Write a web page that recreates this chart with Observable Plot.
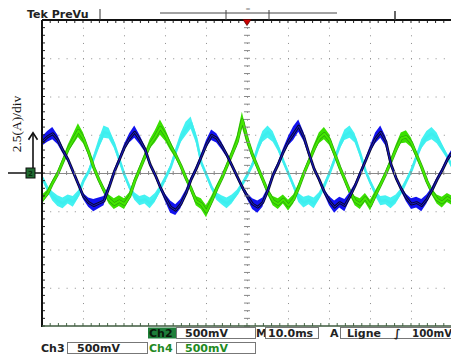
<!DOCTYPE html>
<html><head><meta charset="utf-8">
<script src="https://cdn.jsdelivr.net/npm/d3@7"></script>
<script src="https://cdn.jsdelivr.net/npm/@observablehq/plot@0.6"></script>
<style>
html,body{margin:0;padding:0;background:#fff;}
#chart svg{display:block;}
</style></head><body><div id="chart"></div>
<script>
// sample spacing of the read-off traces (ms)
const sampleStepMs = 1.25;
// phase currents (A), every 1.25 ms
const blueA = [2.1,2.4,2.6,2.2,1.5,0.9,0.1,-0.7,-1.5,-1.9,
  -2.1,-1.95,-1.8,-0.9,0.1,0.9,1.7,2.3,2.7,2.2,
  1.6,0.6,-0.1,-0.9,-1.6,-2.2,-2.4,-2.0,-1.3,-0.4,
  0.3,1.1,1.9,2.5,2.3,1.8,1.2,0.5,-0.2,-0.9,
  -1.5,-2.0,-2.2,-1.9,-1.1,-0.1,0.6,1.4,2.1,2.6,
  3.1,2.4,1.3,0.3,-0.4,-1.2,-1.8,-2.2,-1.9,-2.1,
  -1.5,-0.8,0.0,0.8,1.6,2.3,2.7,2.1,0.6,-0.3,
  -1.0,-1.6,-2.0,-1.9,-2.1,-1.7,-1.1,-0.4,0.2,0.9,
  1.4];
const greenA = [-1.7,-1.3,-0.6,0.0,0.8,1.6,2.2,2.8,2.3,1.4,
  0.4,-0.4,-1.1,-1.7,-2.0,-1.8,-2.0,-1.5,-0.5,0.3,
  1.1,1.9,2.4,3.0,2.5,1.8,1.2,0.5,-0.3,-1.0,
  -1.8,-2.0,-2.5,-1.8,-1.0,-0.3,0.5,1.3,2.1,3.5,
  2.2,1.2,0.4,-0.4,-1.2,-1.8,-2.0,-1.7,-2.1,-1.7,
  -0.9,0.0,0.8,1.6,2.3,2.6,2.2,1.3,0.4,-0.4,
  -1.2,-1.8,-2.0,-1.6,-2.1,-1.4,-0.7,0.0,0.8,1.6,
  2.3,2.4,2.0,1.2,0.4,-0.5,-1.2,-1.7,-1.9,-1.6,
  -1.8];
const cyanA = [-0.3,-1.0,-1.5,-1.8,-1.95,-1.7,-1.85,-1.4,-0.5,0.1,
  1.0,1.9,2.7,2.6,1.9,0.9,-0.1,-0.9,-1.5,-1.8,
  -1.7,-1.95,-1.6,-1.0,-0.3,0.4,1.4,2.3,2.9,3.3,
  2.3,0.7,-0.1,-0.9,-1.5,-1.75,-1.95,-1.7,-1.3,-0.7,
  -0.1,0.6,1.6,2.4,2.7,2.4,1.7,0.8,0.0,-0.8,
  -1.6,-1.9,-1.75,-1.95,-1.5,-0.8,0.0,0.9,1.8,2.5,
  2.7,2.3,1.3,0.2,-0.6,-1.3,-1.8,-1.75,-1.95,-1.7,
  -1.2,-0.5,0.2,1.1,1.9,2.4,2.6,2.3,1.7,1.1,
  0.4];
// half-width of the visible noise band around each trace (A)
const blueNoiseA = [.3,.35,.4,.3,.2,.15,.12,.12,.2,.3,
  .4,.35,.3,.15,.12,.12,.2,.3,.4,.3,
  .2,.12,.12,.15,.25,.4,.35,.3,.2,.12,
  .12,.15,.25,.35,.3,.25,.15,.12,.12,.15,
  .2,.35,.4,.3,.15,.12,.12,.2,.3,.45,
  .4,.3,.15,.12,.12,.15,.3,.4,.35,.4,
  .25,.12,.12,.12,.2,.35,.4,.3,.15,.12,
  .15,.25,.35,.35,.4,.3,.15,.12,.12,.15,
  .2];
const greenNoiseA = [.3,.2,.15,.15,.15,.25,.35,.45,.35,.2,
  .15,.15,.2,.3,.35,.35,.35,.25,.15,.15,
  .2,.3,.4,.5,.4,.3,.2,.15,.15,.2,
  .3,.35,.4,.3,.2,.15,.15,.2,.35,.5,
  .35,.2,.15,.15,.2,.3,.35,.3,.35,.3,
  .2,.15,.15,.25,.35,.4,.35,.2,.15,.15,
  .2,.3,.35,.3,.35,.25,.15,.15,.15,.25,
  .35,.4,.3,.2,.15,.15,.2,.3,.35,.3,
  .3];
const cyanNoiseA = [.12,.2,.3,.35,.35,.3,.35,.25,.12,.12,
  .15,.3,.4,.35,.25,.15,.12,.15,.25,.3,
  .3,.35,.3,.2,.12,.12,.2,.3,.45,.4,
  .3,.15,.12,.15,.25,.3,.35,.3,.2,.12,
  .12,.12,.25,.35,.4,.35,.25,.15,.12,.15,
  .3,.35,.3,.35,.25,.15,.12,.15,.25,.35,
  .4,.3,.2,.12,.12,.2,.3,.3,.35,.3,
  .2,.12,.12,.15,.3,.35,.4,.35,.25,.15,
  .12];
// screen graticule (10 ms/div, 2.5 A/div)
const gridTimesMs = [10,20,30,40,50,60,70,80,90];
const gridCurrentsA = [-7.5,-5,-2.5,2.5,5,7.5];
const centerTimeMs = 50;
const centerCurrentA = 0;
// text on the screen
const headerLabel = "Tek PreVu";
const yLabel = "2.5(A)/div";
const row1 = {ch: "Ch2", scale: "500mV", m: "M", time: "10.0ms", a: "A", trig: "Ligne", slope: "\u222B", level: "100mV"};
const row2 = {ch3: "Ch3", scale3: "500mV", ch4: "Ch4", scale4: "500mV"};

const toRows = (arr, noise) => arr.map((v, i) => ({t: i * sampleStepMs, v, lo: v - noise[i], hi: v + noise[i]}));
const blue = toRows(blueA, blueNoiseA), green = toRows(greenA, greenNoiseA), cyan = toRows(cyanA, cyanNoiseA);

const W = 451, H = 356;
const plot = Plot.plot({
  width: W, height: H,
  marginLeft: 42, marginRight: 0, marginTop: 20, marginBottom: 30,
  style: {background: "white"},
  x: {domain: [0, 99.76], axis: null},
  y: {domain: [-10, 10], axis: null},
  marks: [
    Plot.ruleX(gridTimesMs, {stroke: "#8c8c8c", strokeWidth: 1, strokeDasharray: "1 6.65"}),
    Plot.ruleY(gridCurrentsA, {stroke: "#8c8c8c", strokeWidth: 1, strokeDasharray: "1 7.2"}),
    Plot.ruleX([centerTimeMs], {stroke: "#8c8c8c", strokeWidth: 1, strokeDasharray: "1 6.65"}),
    Plot.ruleY([centerCurrentA], {stroke: "#8a8a8a", strokeWidth: 1}),
    Plot.areaY(cyan, {x: "t", y1: "lo", y2: "hi", fill: "#44f2f2", clip: true}),
    Plot.line(cyan, {x: "t", y: "v", stroke: "#3eeeee", strokeWidth: 2.6, clip: true}),
    Plot.areaY(green, {x: "t", y1: "lo", y2: "hi", fill: "#3ae000", clip: true}),
    Plot.line(green, {x: "t", y: "v", stroke: "#2a9a10", strokeWidth: 3.2, clip: true}),
    Plot.line(green, {x: "t", y: "v", stroke: "#44e800", strokeWidth: 2, clip: true}),
    Plot.areaY(blue, {x: "t", y1: "lo", y2: "hi", fill: "#1212f0", clip: true}),
    Plot.line(blue, {x: "t", y: "v", stroke: "#0a0a30", strokeWidth: 2.8, clip: true}),
    Plot.line(blue, {x: "t", y: "v", stroke: "#1a1ad0", strokeWidth: 1, clip: true})
  ]
});
document.getElementById("chart").appendChild(plot);

const svg = d3.select(plot);
const xs = plot.scale("x"), ys = plot.scale("y");
const X = v => xs.apply(v), Y = v => ys.apply(v);
const g = svg.append("g").attr("text-anchor", "start");
const yTop = Y(10), yBot = Y(-10), xLeft = X(0), xRight = W;

// minor ticks on borders and center axes
const minorT = d3.range(0, 100, 2);
const minorA = d3.range(-10, 10.01, 0.5);
minorT.forEach(t => {
  g.append("line").attr("x1", X(t)).attr("x2", X(t)).attr("y1", yTop).attr("y2", yTop + 3).attr("stroke", "#222").attr("stroke-width", 1);
  g.append("line").attr("x1", X(t)).attr("x2", X(t)).attr("y1", yBot).attr("y2", yBot - 3).attr("stroke", "#4a6a4a").attr("stroke-width", 1);
  g.append("line").attr("x1", X(t)).attr("x2", X(t)).attr("y1", Y(0) - 2).attr("y2", Y(0) + 2).attr("stroke", "#888").attr("stroke-width", 1);
});
minorA.forEach(a => {
  g.append("line").attr("x1", xLeft).attr("x2", xLeft + 3).attr("y1", Y(a)).attr("y2", Y(a)).attr("stroke", "#222").attr("stroke-width", 1);
  g.append("line").attr("x1", X(50) - 3).attr("x2", X(50) + 3).attr("y1", Y(a)).attr("y2", Y(a)).attr("stroke", "#888").attr("stroke-width", 1);
});
// borders
g.append("line").attr("x1", xLeft).attr("x2", xRight).attr("y1", yTop).attr("y2", yTop).attr("stroke", "#111").attr("stroke-width", 2);
g.append("line").attr("x1", xLeft).attr("x2", xLeft).attr("y1", yTop).attr("y2", yBot + 1).attr("stroke", "#111").attr("stroke-width", 2);
g.append("line").attr("x1", xLeft).attr("x2", xRight).attr("y1", yBot).attr("y2", yBot).attr("stroke", "#3e5a3e").attr("stroke-width", 1.5);

// header
const font = "'DejaVu Sans', sans-serif";
g.append("text").attr("x", 27).attr("y", 18).attr("font-family", font).attr("font-weight", "bold").attr("font-size", 11).attr("fill", "#222").text(headerLabel);
g.append("line").attr("x1", 100).attr("x2", 100).attr("y1", 9).attr("y2", 20).attr("stroke", "#333");
g.append("line").attr("x1", 160).attr("x2", 337).attr("y1", 13).attr("y2", 13).attr("stroke", "#444");
[226, 269].forEach(x => g.append("line").attr("x1", x).attr("x2", x).attr("y1", 10).attr("y2", 20).attr("stroke", "#444"));
g.append("line").attr("x1", 395).attr("x2", 395).attr("y1", 11).attr("y2", 20).attr("stroke", "#333").attr("stroke-width", 1.5);
g.append("text").attr("x", 248).attr("y", 11).attr("text-anchor", "middle").attr("font-family", font).attr("font-size", 6).attr("fill", "#777").text("=");
g.append("path").attr("d", `M${X(50)-4},19.5L${X(50)+4},19.5L${X(50)},25.5Z`).attr("fill", "#cc0000").attr("stroke", "#500").attr("stroke-width", 0.8);

// ground marker and scale arrow
g.append("line").attr("x1", 8).attr("x2", xLeft).attr("y1", Y(0)).attr("y2", Y(0)).attr("stroke", "#111").attr("stroke-width", 1.6);
g.append("line").attr("x1", 33).attr("x2", 33).attr("y1", Y(0)).attr("y2", Y(2.5) - 1).attr("stroke", "#111").attr("stroke-width", 1.6);
g.append("path").attr("d", `M28.5,${Y(2.5)+5}L33,${Y(2.5)-2}L37.5,${Y(2.5)+5}`).attr("fill", "none").attr("stroke", "#111").attr("stroke-width", 1.6);
g.append("rect").attr("x", 26).attr("y", Y(0) - 5).attr("width", 9).attr("height", 10).attr("fill", "#1f6a2f").attr("stroke", "#111").attr("stroke-width", 1);
g.append("text").attr("x", 30.5).attr("y", Y(0) + 3).attr("text-anchor", "middle").attr("font-family", font).attr("font-size", 7).attr("font-weight", "bold").attr("fill", "#0b2b10").text("2");
g.append("text").attr("transform", `translate(21,124) rotate(-90)`).attr("text-anchor", "middle").attr("font-family", "'Liberation Serif', serif").attr("font-size", 13.5).attr("fill", "#111").text(yLabel);

// bottom readouts
const box = (x, y, w, h) => g.append("rect").attr("x", x).attr("y", y).attr("width", w).attr("height", h).attr("fill", "white").attr("stroke", "#777").attr("stroke-width", 1);
const txt = (x, y, s, fill, size) => g.append("text").attr("x", x).attr("y", y).attr("text-anchor", "start").attr("font-family", font).attr("font-weight", "bold").attr("font-size", size || 11).attr("fill", fill || "#222").text(s);
g.append("rect").attr("x", 148).attr("y", 327.5).attr("width", 28).attr("height", 11).attr("fill", "#1e7e3a");
txt(149, 337, row1.ch, "#0a1a0a");
box(176.5, 327.5, 79, 11); txt(185, 337, row1.scale);
txt(256, 337, row1.m);
box(265.5, 327.5, 53, 11); txt(268, 337, row1.time);
txt(330, 337, row1.a);
box(340.5, 327.5, 112, 11); txt(347, 337, row1.trig); txt(394, 337, row1.slope); txt(412, 337, row1.level, "#222", 10.3);
txt(41, 352, row2.ch3);
box(67.5, 342.5, 80, 11); txt(77, 352, row2.scale3);
txt(149, 352, row2.ch4, "#1f8a1f");
box(176.5, 342.5, 79, 11); txt(185, 352, row2.scale4, "#1f8a1f");
</script></body></html>
